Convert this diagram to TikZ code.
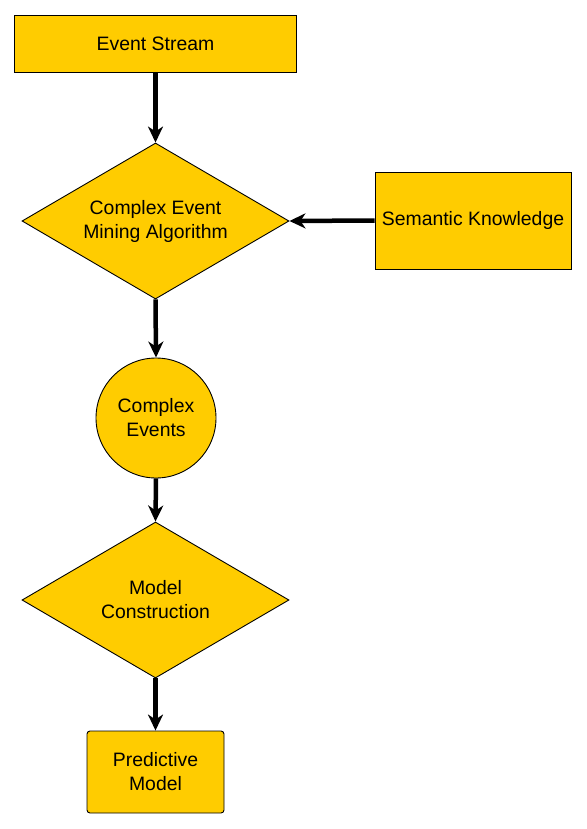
\documentclass[tikz,border=0pt]{standalone}
\usepackage{fontspec}
\setmainfont{Liberation Sans}
\usetikzlibrary{shapes.geometric,arrows.meta}
\definecolor{boxfill}{HTML}{FFCC00}
\tikzset{
  base/.style={draw=black, line width=0.9pt, fill=boxfill, inner sep=0pt, align=center,
    font=\fontsize{19.4}{24}\selectfont},
  rectbox/.style={base, rectangle},
  roundbox/.style={base, rectangle, rounded corners=3pt},
  diam/.style={base, diamond, aspect=1.71, minimum width=267pt, minimum height=156pt},
  circ/.style={base, circle, minimum size=120pt},
  flow/.style={line width=4.5pt, -{Stealth[length=16pt,width=15pt,inset=5pt]}}
}
\begin{document}
\begin{tikzpicture}[x=1pt,y=-1pt]
\useasboundingbox (0,0) rectangle (586,829);
\node[rectbox, minimum width=282pt, minimum height=57pt] (es) at (155.5,43.5) {Event Stream};
\node[diam] (cem) at (155.5,221) {Complex Event\\Mining Algorithm};
\node[rectbox, minimum width=196pt, minimum height=97pt] (sk) at (473,220.5) {Semantic Knowledge};
\node[circ] (ce) at (156,418) {Complex\\Events};
\node[diam] (mc) at (155.5,600) {Model\\Construction};
\node[roundbox, minimum width=137pt, minimum height=82pt] (pm) at (155.5,772) {Predictive\\Model};
\draw[flow] (es.south) -- (cem.north);
\draw[flow] (sk.west) -- (cem.east);
\draw[flow] (cem.south) -- (ce.north);
\draw[flow] (ce.south) -- (mc.north);
\draw[flow] (mc.south) -- (pm.north);
\end{tikzpicture}
\end{document}
